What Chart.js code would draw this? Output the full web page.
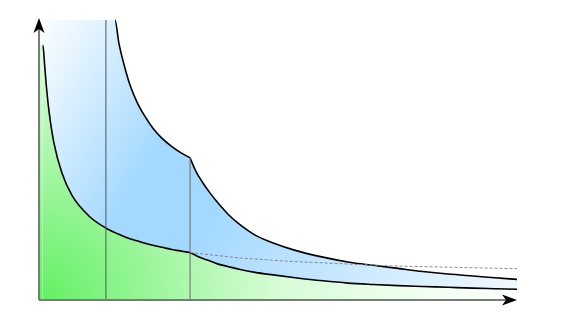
<!DOCTYPE html>
<html>
<head>
<meta charset="utf-8">
<script src="https://cdn.jsdelivr.net/npm/chart.js@4.4.1/dist/chart.umd.min.js"></script>
<style>
  html, body { margin: 0; padding: 0; background: #fff; }
  canvas { display: block; }
</style>
</head>
<body>
<canvas id="curveChart" width="582" height="322"></canvas>
<script>
// curves are split at the kink (x = 31.6) so each half stays smooth
const leftX = [0.1, 0.8, 1.2, 1.5, 2.1, 3.1, 4.8, 6.9, 10.5, 14.0, 15.9, 16.7, 17.8, 19.0, 20.5, 22.2, 23.8, 25.7, 27.8, 29.9, 31.6];
const leftLower = [90.4, 90.4, 82.9, 76.6, 66.9, 55.9, 45.0, 37.1, 29.7, 25.5, 23.9, 23.3, 22.5, 21.7, 21.0, 20.1, 19.4, 18.7, 17.9, 17.3, 16.8];
const leftUpper = [99.3, 99.3, 99.3, 99.3, 99.3, 99.3, 99.3, 99.3, 99.3, 99.3, 99.3, 91.2, 83.4, 76.4, 70.2, 65.0, 61.0, 57.4, 54.4, 52.0, 50.4];
const upperFlatEnd = 10;

const rightX = [31.6, 32.8, 34.3, 35.8, 37.2, 39.5, 42.1, 45.2, 49.0, 53.6, 59.4, 64.6, 69.9, 75.1, 80.3, 85.6, 90.8, 95.4, 100];
const rightLower = [16.8, 15.8, 14.7, 13.8, 12.9, 11.9, 10.8, 9.8, 8.9, 7.9, 6.8, 6.0, 5.5, 5.1, 4.8, 4.5, 4.2, 4.0, 3.8];
const rightUpper = [50.4, 45.7, 41.5, 37.9, 34.9, 30.5, 26.6, 23.0, 20.2, 17.6, 15.2, 13.5, 12.3, 11.2, 10.1, 9.2, 8.5, 7.9, 7.3];

// dashed continuation from the kink
const dashX = [31.6, 42.1, 52.5, 73.4, 100];
const dashY = [16.8, 14.9, 13.7, 12.1, 11.1];

// vertical marker lines
const markX = [14.0, 31.6];
const markTop = [99.3, 50.4];

function pts(xArr, yArr) {
    return xArr.map((x, i) => ({ x: x, y: yArr[i] }));
}

function greenFill(context) {
    const a = context.chart.chartArea;
    if (!a) return '#9ef29e';
    const g = context.chart.ctx.createRadialGradient(a.left, a.bottom, 0, a.left, a.bottom, a.right - a.left);
    g.addColorStop(0, '#62f062');
    g.addColorStop(0.3, '#aaf7aa');
    g.addColorStop(0.5, '#d6fcd6');
    g.addColorStop(0.8, '#f0fff0');
    g.addColorStop(1, '#ffffff');
    return g;
}

function blueFill(context) {
    const a = context.chart.chartArea;
    if (!a) return '#a8dcff';
    const g = context.chart.ctx.createLinearGradient(a.left, a.top, a.right, a.bottom);
    g.addColorStop(0, '#ffffff');
    g.addColorStop(0.3, '#a4d9ff');
    g.addColorStop(0.45, '#a4d9ff');
    g.addColorStop(1, '#f2f9ff');
    return g;
}

function curve(label, data, fillTarget, bg, hideUpTo) {
    return {
        label: label,
        data: data,
        borderColor: '#000',
        borderWidth: 1.6,
        backgroundColor: bg,
        fill: fillTarget,
        cubicInterpolationMode: 'monotone',
        segment: { borderColor: c => c.p1DataIndex <= hideUpTo ? 'transparent' : '#000' },
        order: 2
    };
}

// axes with arrowheads
const arrowAxes = {
    id: 'arrowAxes',
    afterDatasetsDraw(chart) {
        const ctx = chart.ctx;
        const a = chart.chartArea;
        const x0 = chart.scales.x.getPixelForValue(0);
        const y0 = chart.scales.y.getPixelForValue(0);
        ctx.save();
        ctx.strokeStyle = '#7a7a7a';
        ctx.lineWidth = 2;
        ctx.beginPath();
        ctx.moveTo(x0, y0);
        ctx.lineTo(x0, a.top + 9);
        ctx.moveTo(x0, y0);
        ctx.lineTo(a.right - 9, y0);
        ctx.stroke();

        ctx.fillStyle = '#000';
        ctx.beginPath();
        ctx.moveTo(x0, a.top);
        ctx.lineTo(x0 - 5.5, a.top + 15);
        ctx.lineTo(x0, a.top + 11);
        ctx.lineTo(x0 + 5.5, a.top + 15);
        ctx.closePath();
        ctx.fill();

        ctx.beginPath();
        ctx.moveTo(a.right, y0);
        ctx.lineTo(a.right - 15, y0 - 5.5);
        ctx.lineTo(a.right - 11, y0);
        ctx.lineTo(a.right - 15, y0 + 5.5);
        ctx.closePath();
        ctx.fill();
        ctx.restore();
    }
};

const ctx = document.getElementById('curveChart').getContext('2d');

new Chart(ctx, {
    type: 'line',
    data: {
        datasets: [
            curve('lowerLeft', pts(leftX, leftLower), 'origin', greenFill, 1),
            curve('upperLeft', pts(leftX, leftUpper), 0, blueFill, upperFlatEnd),
            curve('lowerRight', pts(rightX, rightLower), 'origin', greenFill, 0),
            curve('upperRight', pts(rightX, rightUpper), 2, blueFill, 0),
            {
                label: 'dashed',
                data: pts(dashX, dashY),
                borderColor: '#8a8a8a',
                borderWidth: 1,
                borderDash: [3, 2],
                fill: false,
                order: 1
            },
            {
                label: 'mark1',
                data: [{ x: markX[0], y: 0 }, { x: markX[0], y: markTop[0] }],
                borderColor: '#555',
                borderWidth: 1,
                fill: false,
                order: 0
            },
            {
                label: 'mark2',
                data: [{ x: markX[1], y: 0 }, { x: markX[1], y: markTop[1] }],
                borderColor: '#6a6a6a',
                borderWidth: 1,
                fill: false,
                order: 0
            }
        ]
    },
    options: {
        responsive: false,
        animation: false,
        devicePixelRatio: 1,
        layout: { padding: { left: 39, right: 65, top: 18, bottom: 22 } },
        elements: { point: { radius: 0, hoverRadius: 0 } },
        scales: {
            x: { type: 'linear', min: 0, max: 100, display: false },
            y: { type: 'linear', min: 0, max: 100, display: false }
        },
        plugins: {
            legend: { display: false },
            tooltip: { enabled: false }
        }
    },
    plugins: [arrowAxes]
});
</script>
</body>
</html>
